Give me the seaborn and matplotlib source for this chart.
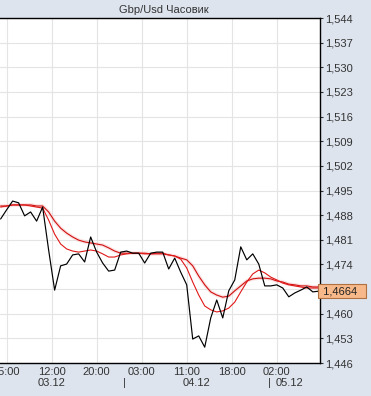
import matplotlib
matplotlib.use("Agg")
import matplotlib.pyplot as plt
import matplotlib.transforms as mtransforms
import seaborn as sns
import pandas as pd
import numpy as np

# ---- data (hourly, 03.12 04:00 -> 05.12 09:00) ----
close = [1.4869, 1.4895, 1.4920, 1.4915, 1.4878, 1.4889, 1.4863, 1.4903, 1.4781, 1.4667,
         1.4736, 1.4741, 1.4767, 1.4770, 1.4747, 1.4818, 1.4775, 1.4744, 1.4721, 1.4724,
         1.4775, 1.4778, 1.4772, 1.4772, 1.4744, 1.4772, 1.4775, 1.4775, 1.4727, 1.4758,
         1.4718, 1.4682, 1.4528, 1.4537, 1.4505, 1.4588, 1.4639, 1.4588, 1.4665, 1.4696,
         1.4790, 1.4753, 1.4770, 1.4741, 1.4679, 1.4679, 1.4682, 1.4673, 1.4648, 1.4659,
         1.4667, 1.4676, 1.4662, 1.4664]
ma_fast = [1.4903, 1.4906, 1.4909, 1.4909, 1.4909, 1.4906, 1.4903, 1.4900, 1.4866, 1.4826,
           1.4798, 1.4784, 1.4778, 1.4775, 1.4778, 1.4781, 1.4778, 1.4770, 1.4761, 1.4761,
           1.4767, 1.4770, 1.4772, 1.4772, 1.4770, 1.4770, 1.4772, 1.4772, 1.4767, 1.4764,
           1.4755, 1.4730, 1.4690, 1.4653, 1.4622, 1.4611, 1.4605, 1.4608, 1.4616, 1.4633,
           1.4662, 1.4690, 1.4713, 1.4724, 1.4716, 1.4704, 1.4696, 1.4687, 1.4682, 1.4679,
           1.4676, 1.4673, 1.4673, 1.4673]
ma_slow = [1.4906, 1.4906, 1.4909, 1.4909, 1.4909, 1.4909, 1.4906, 1.4906, 1.4889, 1.4863,
           1.4843, 1.4829, 1.4818, 1.4809, 1.4804, 1.4801, 1.4798, 1.4795, 1.4787, 1.4778,
           1.4772, 1.4772, 1.4772, 1.4772, 1.4772, 1.4770, 1.4770, 1.4770, 1.4767, 1.4764,
           1.4758, 1.4753, 1.4736, 1.4707, 1.4682, 1.4662, 1.4653, 1.4647, 1.4650, 1.4665,
           1.4679, 1.4693, 1.4699, 1.4701, 1.4701, 1.4699, 1.4693, 1.4690, 1.4684, 1.4682,
           1.4679, 1.4679, 1.4676, 1.4676]
last_price = 1.4664

x_tick_pos = [1, 8.5, 16, 23.5, 31, 38.5, 46]
x_tick_labels = ["05:00", "12:00", "20:00", "03:00", "11:00", "18:00", "02:00"]
date_labels = ["03.12", "04.12", "05.12"]
date_pos = [8.5, 32.7, 48.2]
day_sep_pos = [20.7, 44.7]

y_ticks = [1.446, 1.453, 1.460, 1.467, 1.474, 1.481, 1.488, 1.495, 1.502,
           1.509, 1.516, 1.523, 1.530, 1.537, 1.544]
title = "Gbp/Usd Часовик"

# ---- figure ----
sns.set_style("white")
plt.rcParams["font.family"] = ["Liberation Sans", "DejaVu Sans"]
bg = "#dde4ee"
fig = plt.figure(figsize=(3.71, 3.96), dpi=100, facecolor=bg)
ax = fig.add_axes([0.0, 1 - 363 / 396, 320 / 371, 345 / 396])
ax.set_facecolor("white")

hours = np.arange(len(close))
df = pd.DataFrame({"hour": hours, "close": close, "fast": ma_fast, "slow": ma_slow})

# pale halo under the slow average
sns.lineplot(data=df, x="hour", y="slow", ax=ax, color="#f8c4c4", lw=2.6, alpha=0.5)
sns.lineplot(data=df, x="hour", y="slow", ax=ax, color="#d01010", lw=0.8)
sns.lineplot(data=df, x="hour", y="fast", ax=ax, color="#e01818", lw=0.8)
sns.lineplot(data=df, x="hour", y="close", ax=ax, color="black", lw=0.85)

ax.set_xlim(-0.1, 53.2)
ax.set_ylim(y_ticks[0], y_ticks[-1])
ax.set_xlabel("")
ax.set_ylabel("")

ax.set_xticks(x_tick_pos)
ax.set_xticklabels(x_tick_labels)
ax.set_yticks(y_ticks)
# the 1,467 label sits under the current-price box, so it is left blank
ax.set_yticklabels([("" if abs(v - last_price) < 0.002 else f"{v:.3f}".replace(".", ","))
                    for v in y_ticks])
ax.yaxis.tick_right()
ax.tick_params(axis="y", which="both", right=True, left=False, length=2, pad=2,
               labelsize=8, colors="#333333")
ax.tick_params(axis="x", length=0, pad=3, labelsize=8, colors="#333333")

ax.grid(True, color="#e4e4e4", lw=0.8)
ax.set_axisbelow(True)
for side in ["top", "right", "bottom"]:
    ax.spines[side].set_visible(True)
    ax.spines[side].set_color("black")
    ax.spines[side].set_linewidth(1.0)
ax.spines["left"].set_visible(False)

# second row: dates and day separators
trans = mtransforms.blended_transform_factory(ax.transData, ax.transAxes)
row2 = -(383 - 363) / 345
for p, lab in zip(date_pos, date_labels):
    ax.text(p, row2, lab, transform=trans, ha="center", va="center", fontsize=8,
            color="#333333")
for p in day_sep_pos:
    ax.text(p, row2, "|", transform=trans, ha="center", va="center", fontsize=8,
            color="#333333")

# current price box
ytrans = mtransforms.blended_transform_factory(ax.transAxes, ax.transData)
ax.text(1.0, last_price, " " + f"{last_price:.4f}".replace(".", ",") + "  ",
        transform=ytrans, ha="left", va="center", fontsize=8, color="#222222",
        bbox=dict(boxstyle="square,pad=0.2", fc="#f7b98a", ec="#b07040", lw=0.8),
        clip_on=False, zorder=10)

fig.text(164 / 371, 1 - 10 / 396, title, ha="center", va="center", fontsize=8,
         color="#333333")

fig.savefig("out.png", dpi=100, facecolor=bg)
